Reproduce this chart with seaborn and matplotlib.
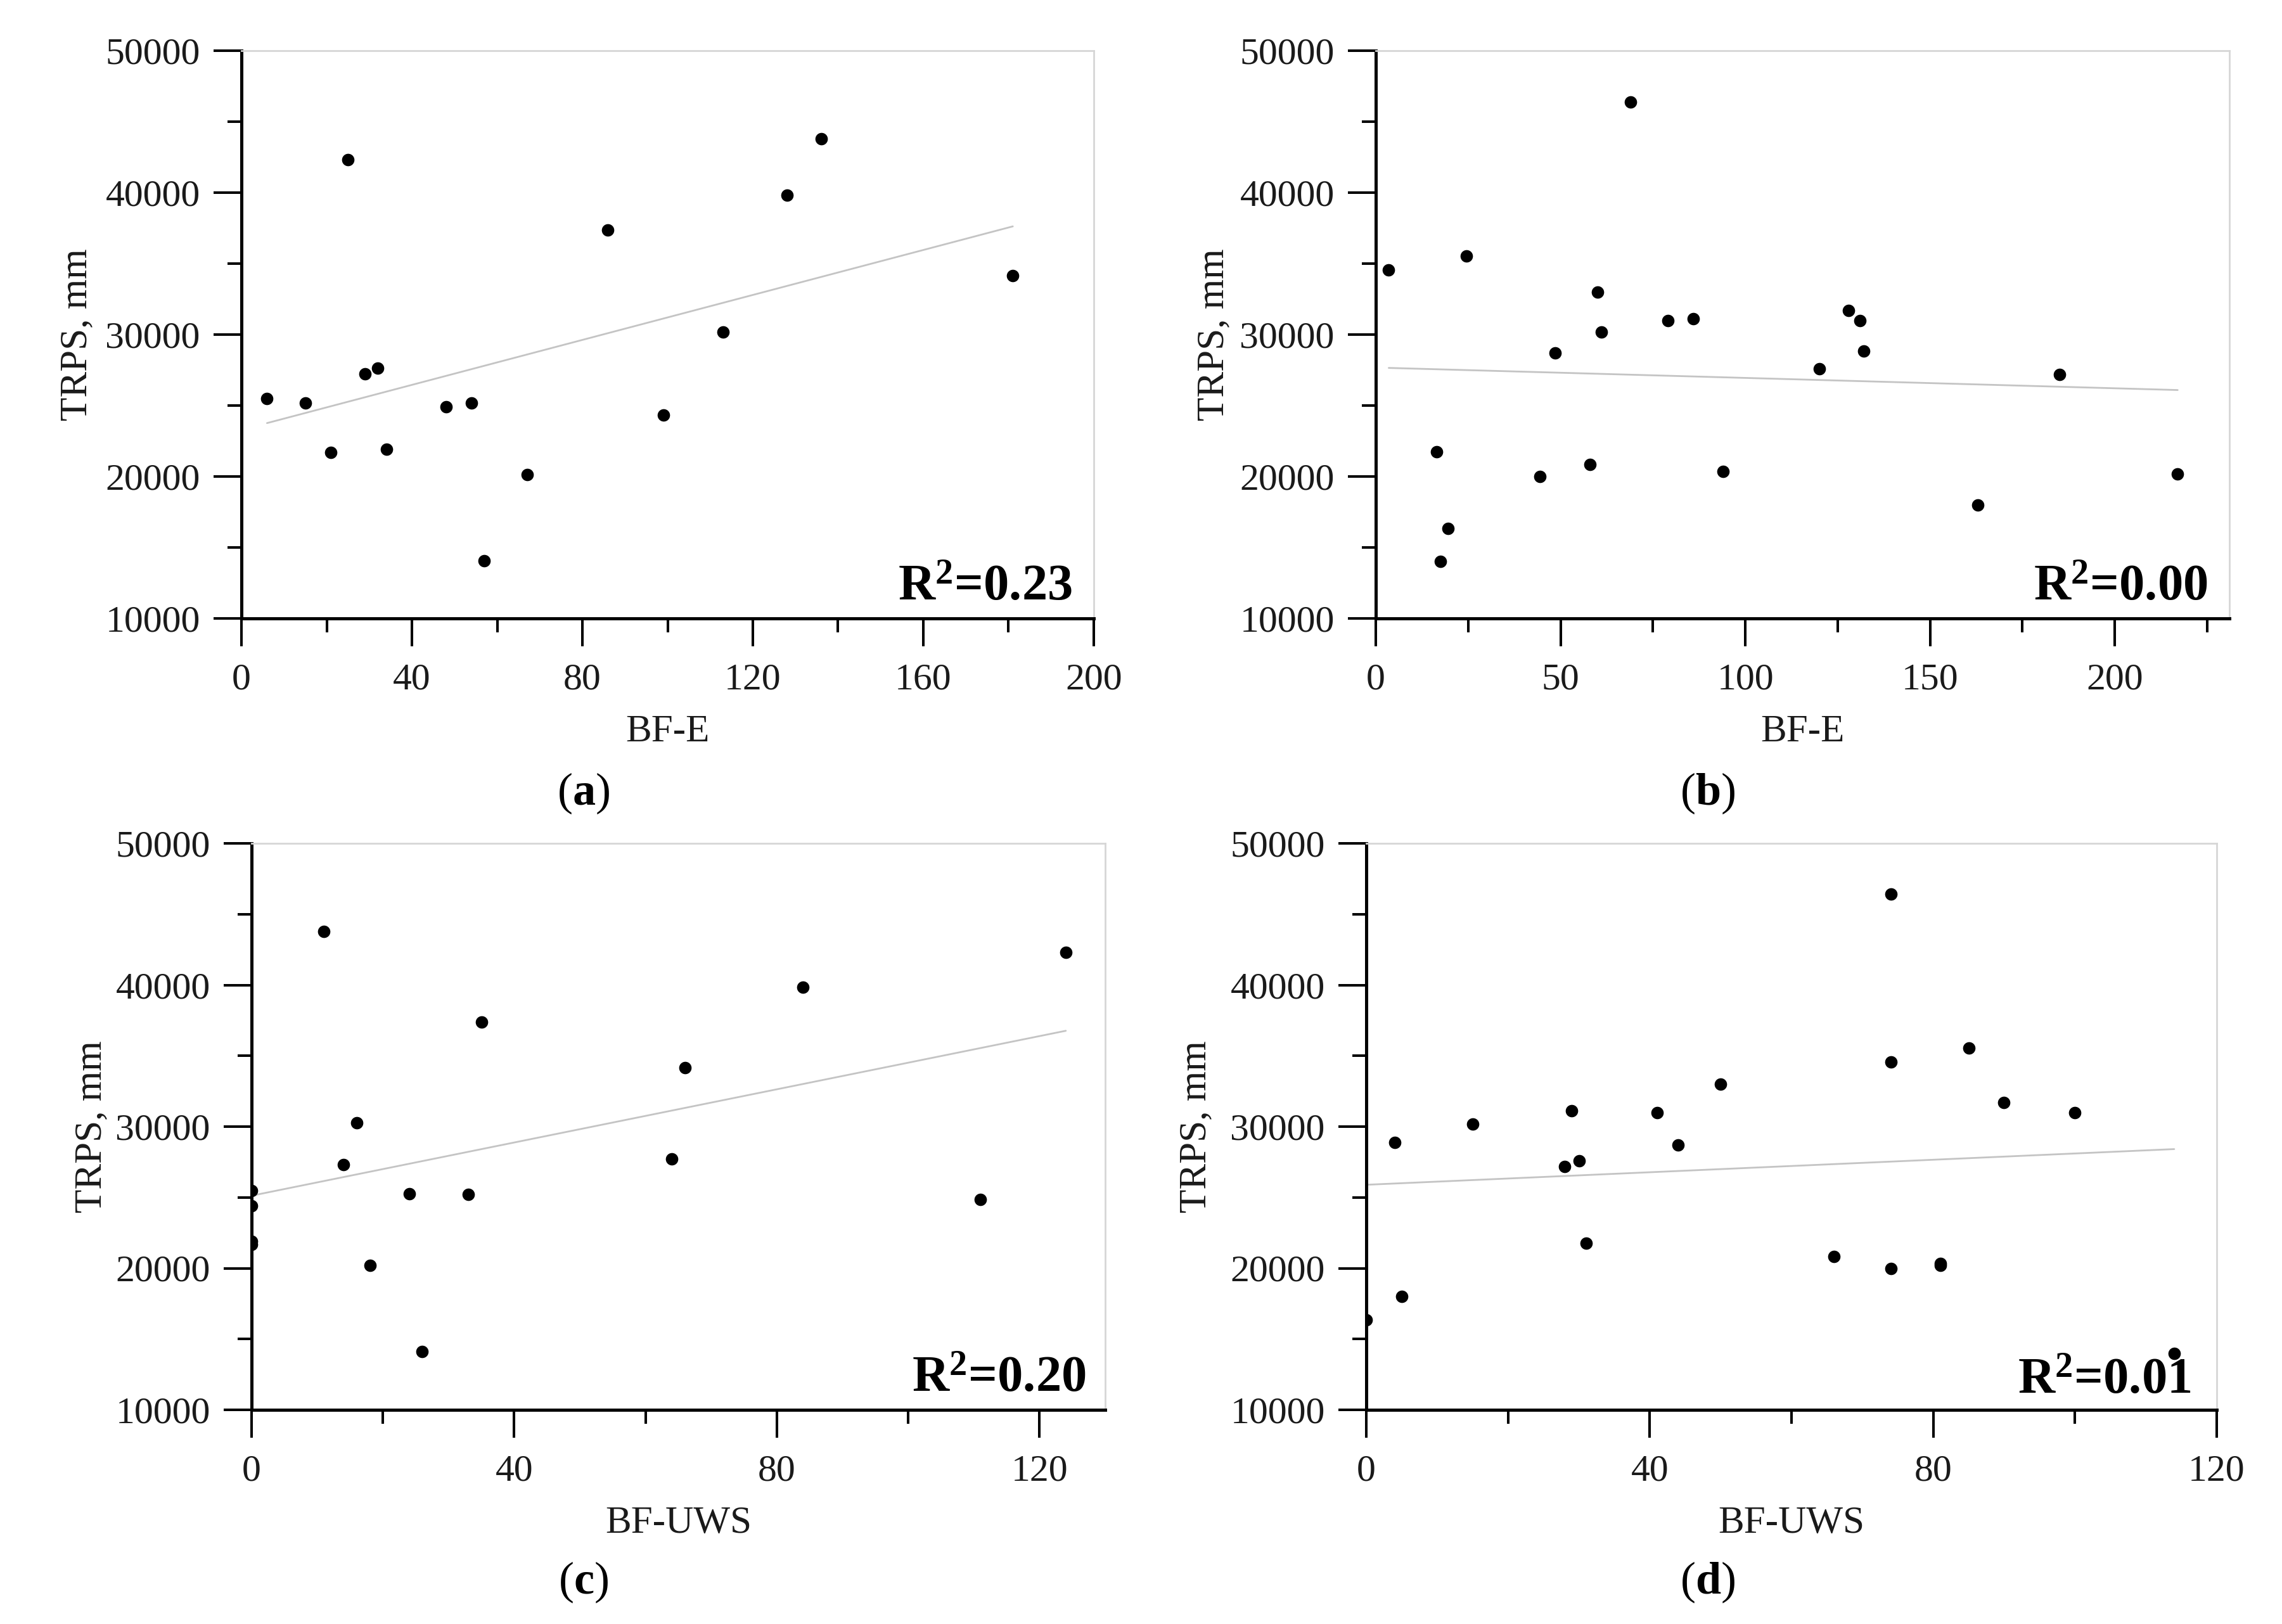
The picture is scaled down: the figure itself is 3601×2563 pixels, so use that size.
import numpy as np
import pandas as pd
import matplotlib
matplotlib.use("Agg")
import matplotlib.pyplot as plt
import seaborn as sns
from matplotlib.ticker import MultipleLocator

# ---------------- data ----------------
a_x = [6, 15, 21, 25, 29, 32, 34, 48, 54, 57, 67, 86, 99, 113, 128, 136, 181]
a_y = [25500, 25200, 21700, 42300, 27250, 27650, 21900, 24900, 25200, 14050,
       20150, 37350, 24350, 30200, 39800, 43800, 34150]

b_x = [3.5, 24.5, 16.5, 19.5, 17.5, 44.5, 48.5, 58, 60, 61, 69, 79, 86, 94,
       120, 128, 131, 132, 163, 185, 217]
b_y = [34550, 35550, 21750, 16350, 14000, 20000, 28700, 20850, 33000, 30200,
       46400, 31000, 31100, 20350, 27600, 31700, 31000, 28850, 18000, 27200, 20200]

c_x = [11, 14, 16, 18, 0, 0, 0, 0, 24, 26, 33, 35, 64, 66, 84, 111, 124]
c_y = [43800, 27300, 30250, 20200, 25500, 24400, 21700, 21900, 25250, 14100,
       25200, 37400, 27700, 34150, 39850, 24850, 42300]

d_x = [0, 4, 5, 15, 28, 29, 30, 31, 41, 44, 50, 66, 74, 74, 74, 81, 81, 85,
       90, 100, 114]
d_y = [16350, 28900, 18000, 30200, 27200, 31100, 27600, 21750, 31000, 28700,
       33000, 20850, 46400, 34550, 20000, 20350, 20200, 35550, 31700, 31000, 14000]

x_labels = ["BF-E", "BF-E", "BF-UWS", "BF-UWS"]
y_label = "TRPS, mm"
r2_texts = ["0.23", "0.00", "0.20", "0.01"]
captions = ["a", "b", "c", "d"]

# ---------------- style ----------------
sns.set_theme(style="white")
plt.rcParams["font.family"] = ["Liberation Serif", "DejaVu Serif"]
plt.rcParams["mathtext.fontset"] = "custom"
plt.rcParams["mathtext.rm"] = "Liberation Serif"
plt.rcParams["mathtext.it"] = "Liberation Serif:italic"
plt.rcParams["mathtext.bf"] = "Liberation Serif:bold"

W, H = 3601, 2563
DPI = 100
fig = plt.figure(figsize=(W / DPI, H / DPI), dpi=DPI)

# axes boxes in pixels: left, right, top, bottom
boxes = [
    (381, 1726, 80, 976),
    (2171, 3518, 80, 976),
    (397, 1744, 1331, 2225),
    (2156, 3498, 1331, 2225),
]
xlims = [(0, 200), (0, 231), (0, 130), (0, 120)]
xmajor = [40, 50, 40, 40]
ylabel_off = [260, 256, 253, 269]
r2_off = [(34, 28), (34, 28), (30, 28), (41, 25)]
cap_pos = [(921, 1252), (2695, 1252), (921, 2497), (2695, 2497)]

datasets = [(a_x, a_y), (b_x, b_y), (c_x, c_y), (d_x, d_y)]

TXT = "#1a1a1a"
for i, ((xs, ys), (l, r, t, b)) in enumerate(zip(datasets, boxes)):
    ax = fig.add_axes([l / W, 1 - b / H, (r - l) / W, (b - t) / H])
    df = pd.DataFrame({"x": xs, "y": ys})
    sns.regplot(data=df, x="x", y="y", ax=ax, scatter=False, ci=None,
                truncate=True, line_kws={"color": "#c4c4c4", "lw": 2.0})
    sns.scatterplot(data=df, x="x", y="y", ax=ax, color="black", s=200,
                    linewidth=0, zorder=3)
    ax.set_xlim(*xlims[i])
    ax.set_ylim(10000, 50000)
    ax.xaxis.set_major_locator(MultipleLocator(xmajor[i]))
    ax.xaxis.set_minor_locator(MultipleLocator(xmajor[i] / 2))
    ax.yaxis.set_major_locator(MultipleLocator(10000))
    ax.yaxis.set_minor_locator(MultipleLocator(5000))
    ax.tick_params(which="major", direction="out", length=32, width=2.9,
                   color="black", labelsize=43, labelcolor=TXT)
    ax.tick_params(which="minor", direction="out", length=16, width=2.9,
                   color="black")
    ax.tick_params(axis="x", which="major", pad=19)
    ax.tick_params(axis="y", which="major", pad=15)
    ax.tick_params(bottom=True, left=True, top=False, right=False)
    ax.tick_params(which="minor", bottom=True, left=True, top=False, right=False)
    for s in ("left", "bottom"):
        ax.spines[s].set_color("black")
        ax.spines[s].set_linewidth(3.6)
    for s in ("top", "right"):
        ax.spines[s].set_color("#d6d6d6")
        ax.spines[s].set_linewidth(2.0)
    ax.set_xlabel(x_labels[i], fontsize=44, color=TXT, va="center")
    ax.set_ylabel(y_label, fontsize=44, color=TXT, va="center")
    w, h = r - l, b - t
    ax.xaxis.set_label_coords(0.5, -179 / h)
    ax.yaxis.set_label_coords(-ylabel_off[i] / w, 0.5)
    ax.grid(False)
    dx, dy = r2_off[i]
    ax.text(1 - dx / w, dy / h, r"$\mathbf{R^{2}}$=" + r2_texts[i],
            transform=ax.transAxes, ha="right", va="baseline",
            fontsize=58, fontweight="bold", color="black")
    cx, cy = cap_pos[i]
    fig.text(cx / W, 1 - cy / H, "(" + r"$\mathbf{" + captions[i] + "}$" + ")",
             ha="center", va="center", fontsize=52, color="black")

fig.savefig("out.png", dpi=DPI, facecolor="white")
